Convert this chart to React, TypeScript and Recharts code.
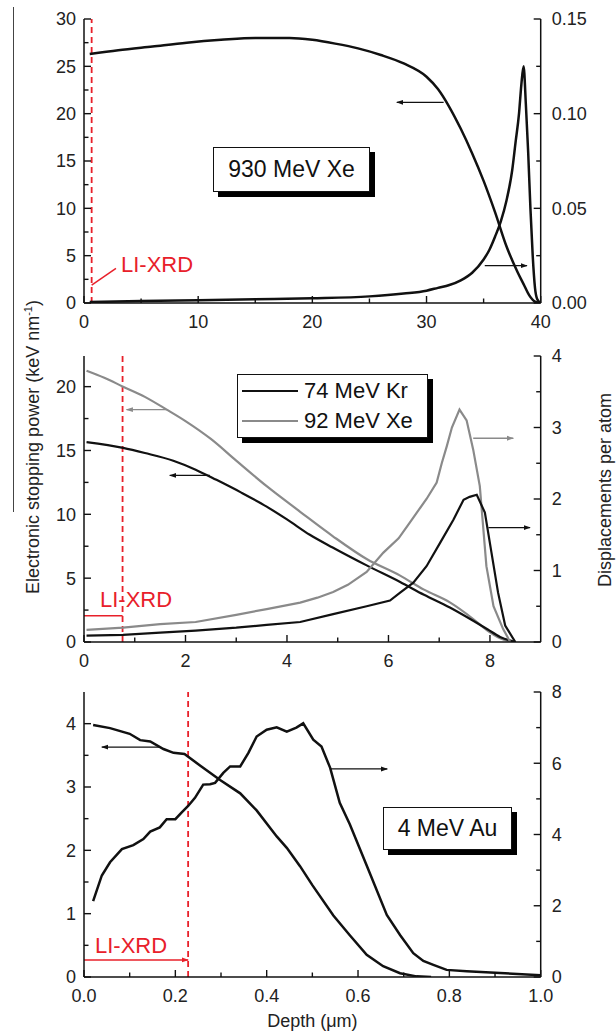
import React from 'react';
import { ComposedChart, Line, XAxis, YAxis, ReferenceLine, Legend } from 'recharts';

const FONT = '"Liberation Sans", Arial, Helvetica, sans-serif';
const INK = '#111111';
const GRAY = '#8a8a8a';
const RED = '#e8202a';

const W = 616;
const LEFT_W = 84;
const RIGHT_W = 75.3;

// ---- panel 1: 930 MeV Xe ----
const xe930SeDepth = [0.5, 3, 6, 9, 12, 15, 18, 20, 22, 24, 26, 28, 30, 31, 32, 33, 34, 35, 36, 37, 38, 38.5, 39, 39.5, 40];
const xe930Se = [26.3, 26.7, 27.1, 27.5, 27.8, 28.0, 28.0, 27.8, 27.4, 26.9, 26.2, 25.3, 23.9, 22.6, 20.7, 18.4, 15.8, 12.9, 9.6, 6.0, 3.2, 2.0, 0.8, 0.15, 0];
const xe930DpaDepth = [0.5, 5, 10, 15, 20, 25, 28, 30, 31, 32, 33, 34, 35, 35.5, 36, 36.5, 37, 37.5, 37.8, 38.1, 38.3, 38.5, 38.7, 38.9, 39.1, 39.3, 39.5, 39.7, 40];
const xe930Dpa = [0.0005, 0.001, 0.0015, 0.002, 0.0025, 0.0035, 0.005, 0.0065, 0.008, 0.0095, 0.012, 0.016, 0.023, 0.028, 0.035, 0.043, 0.054, 0.07, 0.085, 0.1, 0.115, 0.125, 0.105, 0.08, 0.05, 0.025, 0.008, 0.002, 0];
const p1XTicks = [0, 5, 10, 15, 20, 25, 30, 35, 40];
const p1XLabels = [0, 10, 20, 30, 40];
const p1LeftTicks = [0, 2.5, 5, 7.5, 10, 12.5, 15, 17.5, 20, 22.5, 25, 27.5, 30];
const p1LeftLabels = [0, 5, 10, 15, 20, 25, 30];
const p1RightTicks = [0, 0.025, 0.05, 0.075, 0.1, 0.125, 0.15];
const p1RightLabels = [0, 0.05, 0.1, 0.15];

// ---- panel 2: 74 MeV Kr / 92 MeV Xe ----
const xe92SeDepth = [0.05, 0.4, 0.77, 1.2, 1.63, 2.0, 2.5, 3.0, 3.6, 4.26, 4.9, 5.57, 6.23, 6.7, 7.21, 7.67, 7.95, 8.2, 8.45];
const xe92Se = [21.25, 20.7, 20.0, 19.2, 18.2, 17.3, 15.9, 14.2, 12.2, 10.2, 8.3, 6.5, 5.2, 4.1, 3.1, 1.8, 0.9, 0.3, 0];
const kr74SeDepth = [0.05, 0.77, 1.2, 1.76, 2.2, 2.61, 3.1, 3.6, 4.0, 4.45, 4.9, 5.57, 6.23, 6.7, 7.21, 7.67, 7.95, 8.2, 8.5];
const kr74Se = [15.65, 15.2, 14.8, 14.2, 13.5, 12.7, 11.7, 10.6, 9.6, 8.4, 7.4, 6.0, 4.7, 3.7, 2.7, 1.66, 1.0, 0.4, 0];
const xe92DpaDepth = [0.05, 0.77, 1.5, 2.2, 3.0, 3.6, 4.26, 4.6, 4.91, 5.2, 5.57, 5.9, 6.2, 6.42, 6.6, 6.75, 6.95, 7.05, 7.15, 7.25, 7.4, 7.54, 7.67, 7.8, 7.93, 8.07, 8.26, 8.4];
const xe92Dpa = [0.17, 0.2, 0.25, 0.28, 0.38, 0.46, 0.55, 0.62, 0.7, 0.8, 0.98, 1.25, 1.45, 1.67, 1.85, 2.0, 2.23, 2.5, 2.74, 3.0, 3.25, 3.1, 2.69, 2.18, 1.06, 0.5, 0.18, 0];
const kr74DpaDepth = [0.05, 0.77, 1.5, 2.2, 3.0, 3.6, 4.26, 4.91, 5.57, 6.03, 6.23, 6.49, 6.75, 7.02, 7.28, 7.48, 7.6, 7.74, 7.9, 8.03, 8.16, 8.3, 8.5];
const kr74Dpa = [0.09, 0.1, 0.13, 0.16, 0.2, 0.24, 0.28, 0.39, 0.5, 0.58, 0.69, 0.83, 1.06, 1.39, 1.71, 1.99, 2.03, 2.06, 1.81, 1.25, 0.69, 0.23, 0];
const legendNames = ['74 MeV Kr', '92 MeV Xe'];
const legendColors = [INK, GRAY];
const p2XTicks = [0, 1, 2, 3, 4, 5, 6, 7, 8];
const p2XLabels = [0, 2, 4, 6, 8];
const p2LeftTicks = [0, 2.5, 5, 7.5, 10, 12.5, 15, 17.5, 20];
const p2LeftLabels = [0, 5, 10, 15, 20];
const p2RightTicks = [0, 0.5, 1, 1.5, 2, 2.5, 3, 3.5, 4];
const p2RightLabels = [0, 1, 2, 3, 4];

// ---- panel 3: 4 MeV Au ----
const au4SeDepth = [0.02, 0.057, 0.1, 0.123, 0.145, 0.174, 0.196, 0.22, 0.254, 0.298, 0.342, 0.378, 0.422, 0.444, 0.473, 0.5, 0.546, 0.582, 0.619, 0.655, 0.692, 0.728, 0.76];
const au4Se = [3.98, 3.93, 3.84, 3.74, 3.72, 3.6, 3.54, 3.52, 3.34, 3.11, 2.9, 2.63, 2.22, 2.04, 1.75, 1.45, 0.97, 0.66, 0.35, 0.17, 0.06, 0.01, 0];
const au4DpaDepth = [0.02, 0.039, 0.057, 0.083, 0.108, 0.13, 0.145, 0.166, 0.181, 0.2, 0.214, 0.228, 0.243, 0.261, 0.276, 0.287, 0.305, 0.32, 0.342, 0.36, 0.378, 0.4, 0.422, 0.444, 0.465, 0.48, 0.502, 0.52, 0.539, 0.56, 0.582, 0.619, 0.663, 0.692, 0.721, 0.743, 0.765, 0.794, 0.838, 0.911, 1.0];
const au4Dpa = [2.13, 2.85, 3.22, 3.59, 3.7, 3.87, 4.08, 4.2, 4.43, 4.43, 4.62, 4.8, 5.03, 5.4, 5.41, 5.45, 5.73, 5.91, 5.91, 6.29, 6.75, 6.94, 7.01, 6.89, 7.0, 7.12, 6.66, 6.47, 5.87, 4.89, 4.29, 3.13, 1.74, 1.18, 0.67, 0.45, 0.34, 0.2, 0.16, 0.11, 0.05];
const p3XTicks = [0, 0.1, 0.2, 0.3, 0.4, 0.5, 0.6, 0.7, 0.8, 0.9, 1.0];
const p3XLabels = [0, 0.2, 0.4, 0.6, 0.8, 1.0];
const p3LeftTicks = [0, 0.5, 1, 1.5, 2, 2.5, 3, 3.5, 4];
const p3LeftLabels = [0, 1, 2, 3, 4];
const p3RightTicks = [0, 1, 2, 3, 4, 5, 6, 7, 8];
const p3RightLabels = [0, 2, 4, 6, 8];

// LI-XRD depth (dashed red line) per panel
const lixrd = [0.67, 0.76, 0.228];

const zip = (d: number[], v: number[]) => d.map((x, i) => ({ d: x, v: v[i] }));

// inward tick marks (long for labelled values, short otherwise)
const tickFactory = (side: string, major: number[], fmt?: (v: number) => string, gap = 8) => (props: any) => {
  const { x, y, payload } = props;
  const v = payload.value;
  const isMajor = major.some((m) => Math.abs(m - v) < 1e-9);
  const len = isMajor ? 7 : 4.5;
  const label = isMajor && fmt ? fmt(v) : null;
  const ls = { stroke: INK, strokeWidth: 1.4 };
  const ts = { fontFamily: FONT, fontSize: 18, fill: '#222' };
  if (side === 'bottom')
    return (
      <g>
        <line x1={x} y1={y} x2={x} y2={y - len} {...ls} />
        {label && <text x={x} y={y + gap} dy="0.71em" textAnchor="middle" {...ts}>{label}</text>}
      </g>
    );
  if (side === 'top') return <line x1={x} y1={y} x2={x} y2={y + len} {...ls} />;
  if (side === 'left')
    return (
      <g>
        <line x1={x} y1={y} x2={x + len} y2={y} {...ls} />
        {label && <text x={x - gap} y={y} dy="0.355em" textAnchor="end" {...ts}>{label}</text>}
      </g>
    );
  return (
    <g>
      <line x1={x} y1={y} x2={x - len} y2={y} {...ls} />
      {label && <text x={x + gap} y={y} dy="0.355em" textAnchor="start" {...ts}>{label}</text>}
    </g>
  );
};

const arrowShape = (color: string, marker: string, width = 1.3) => (p: any) => (
  <line x1={p.x1} y1={p.y1} x2={p.x2} y2={p.y2} stroke={color} strokeWidth={width} markerEnd={`url(#${marker})`} />
);

const axisLine = { stroke: INK, strokeWidth: 1.5 };

function Frame(props: {
  top: number; height: number; xMax: number; xTicks: number[]; xLabels: number[]; xFmt: (v: number) => string;
  leftMax: number; leftTicks: number[]; leftLabels: number[];
  rightMax: number; rightTicks: number[]; rightLabels: number[]; rightFmt: (v: number) => string;
  xHeight: number; xLabel?: string; children: React.ReactNode;
}) {
  const p = props;
  return (
    <div style={{ position: 'absolute', left: 0, top: p.top }}>
      <ComposedChart width={W} height={p.height} margin={{ top: 10, right: 0, bottom: 0, left: 0 }}>
        <XAxis xAxisId="b" dataKey="d" type="number" domain={[0, p.xMax]} allowDataOverflow ticks={p.xTicks} interval={0}
          tickSize={0} tickMargin={0} tickLine={false} axisLine={axisLine} height={p.xHeight}
          tick={tickFactory('bottom', p.xLabels, p.xFmt, 12)}
          label={p.xLabel ? { value: p.xLabel, position: 'insideBottom', offset: 6, style: { fontFamily: FONT, fontSize: 18, fill: '#222' } } : undefined} />
        <XAxis xAxisId="t" orientation="top" dataKey="d" type="number" domain={[0, p.xMax]} allowDataOverflow ticks={p.xTicks} interval={0}
          tickSize={0} tickMargin={0} tickLine={false} axisLine={axisLine} height={0} tick={tickFactory('top', p.xLabels)} />
        <YAxis yAxisId="left" type="number" domain={[0, p.leftMax]} allowDataOverflow ticks={p.leftTicks} interval={0}
          tickSize={0} tickMargin={0} tickLine={false} axisLine={axisLine} width={LEFT_W}
          tick={tickFactory('left', p.leftLabels, (v) => String(v), 8)} />
        <YAxis yAxisId="right" orientation="right" type="number" domain={[0, p.rightMax]} allowDataOverflow ticks={p.rightTicks} interval={0}
          tickSize={0} tickMargin={0} tickLine={false} axisLine={axisLine} width={RIGHT_W}
          tick={tickFactory('right', p.rightLabels, p.rightFmt, 11)} />
        {p.children}
      </ComposedChart>
    </div>
  );
}

const boxStyle: React.CSSProperties = {
  position: 'absolute', border: '1.5px solid #111', background: '#fff', boxShadow: '5px 5px 0 #000',
  display: 'flex', alignItems: 'center', justifyContent: 'center', fontSize: 23, color: '#111', boxSizing: 'border-box',
};

const redText: React.CSSProperties = { position: 'absolute', color: RED, fontSize: 22, lineHeight: '22px', whiteSpace: 'nowrap' };

function LegendBox() {
  return (
    <div style={{ ...boxStyle, position: 'relative', width: 191, height: 64, flexDirection: 'column', alignItems: 'flex-start', justifyContent: 'center', fontSize: 22, fontFamily: FONT }}>
      {legendNames.map((n, i) => (
        <div key={n} style={{ display: 'flex', alignItems: 'center', height: 30 }}>
          <div style={{ width: 56, height: 2.5, background: legendColors[i], marginLeft: 4, marginRight: 6 }} />
          <span>{n}</span>
        </div>
      ))}
    </div>
  );
}

export default function App() {
  return (
    <div style={{ position: 'absolute', left: 0, top: 0, width: W, height: 1033, background: '#fff', fontFamily: FONT, overflow: 'hidden' }}>
      <svg width={0} height={0} style={{ position: 'absolute' }}>
        <defs>
          <marker id="ah-ink" viewBox="0 0 10 10" refX="9" refY="5" markerWidth="7" markerHeight="7" markerUnits="userSpaceOnUse" orient="auto">
            <path d="M0,1.5 L10,5 L0,8.5 z" fill={INK} />
          </marker>
          <marker id="ah-gray" viewBox="0 0 10 10" refX="9" refY="5" markerWidth="7" markerHeight="7" markerUnits="userSpaceOnUse" orient="auto">
            <path d="M0,1.5 L10,5 L0,8.5 z" fill={GRAY} />
          </marker>
          <marker id="ah-red" viewBox="0 0 10 10" refX="9" refY="5" markerWidth="7" markerHeight="7" markerUnits="userSpaceOnUse" orient="auto">
            <path d="M0,1.5 L10,5 L0,8.5 z" fill={RED} />
          </marker>
        </defs>
      </svg>

      {/* panel 1 */}
      <Frame top={9} height={324} xMax={40} xTicks={p1XTicks} xLabels={p1XLabels} xFmt={(v) => String(v)}
        leftMax={30} leftTicks={p1LeftTicks} leftLabels={p1LeftLabels}
        rightMax={0.15} rightTicks={p1RightTicks} rightLabels={p1RightLabels} rightFmt={(v) => v.toFixed(2)} xHeight={30}>
        <ReferenceLine xAxisId="b" yAxisId="left" x={lixrd[0]} stroke={RED} strokeWidth={1.8} strokeDasharray="6 4" />
        <ReferenceLine xAxisId="b" yAxisId="left" segment={[{ x: 0.67, y: 1.9 }, { x: 2.8, y: 3.66 }]} stroke={RED} strokeWidth={1.5} />
        <Line xAxisId="b" yAxisId="left" data={zip(xe930SeDepth, xe930Se)} dataKey="v" type="monotone" stroke={INK} strokeWidth={2.5} dot={false} isAnimationActive={false} />
        <Line xAxisId="b" yAxisId="right" data={zip(xe930DpaDepth, xe930Dpa)} dataKey="v" type="monotone" stroke={INK} strokeWidth={2.5} dot={false} isAnimationActive={false} />
        <ReferenceLine xAxisId="b" yAxisId="left" segment={[{ x: 31.5, y: 21.2 }, { x: 27.4, y: 21.2 }]} shape={arrowShape(INK, 'ah-ink')} />
        <ReferenceLine xAxisId="b" yAxisId="right" segment={[{ x: 35.1, y: 0.0197 }, { x: 38.8, y: 0.0197 }]} shape={arrowShape(INK, 'ah-ink')} />
      </Frame>

      {/* panel 2 */}
      <Frame top={346} height={326} xMax={9} xTicks={p2XTicks} xLabels={p2XLabels} xFmt={(v) => String(v)}
        leftMax={22.4} leftTicks={p2LeftTicks} leftLabels={p2LeftLabels}
        rightMax={4} rightTicks={p2RightTicks} rightLabels={p2RightLabels} rightFmt={(v) => String(v)} xHeight={30}>
        <ReferenceLine xAxisId="b" yAxisId="left" x={lixrd[1]} stroke={RED} strokeWidth={1.8} strokeDasharray="6 4" />
        <ReferenceLine xAxisId="b" yAxisId="left" segment={[{ x: 0, y: 2.05 }, { x: lixrd[1], y: 2.05 }]} stroke={RED} strokeWidth={1.5} />
        <Line xAxisId="b" yAxisId="left" data={zip(xe92SeDepth, xe92Se)} dataKey="v" type="monotone" stroke={GRAY} strokeWidth={2.2} dot={false} isAnimationActive={false} />
        <Line xAxisId="b" yAxisId="left" data={zip(kr74SeDepth, kr74Se)} dataKey="v" type="monotone" stroke={INK} strokeWidth={2.2} dot={false} isAnimationActive={false} />
        <Line xAxisId="b" yAxisId="right" data={zip(xe92DpaDepth, xe92Dpa)} dataKey="v" type="linear" stroke={GRAY} strokeWidth={2.2} dot={false} isAnimationActive={false} />
        <Line xAxisId="b" yAxisId="right" data={zip(kr74DpaDepth, kr74Dpa)} dataKey="v" type="linear" stroke={INK} strokeWidth={2.2} dot={false} isAnimationActive={false} />
        <ReferenceLine xAxisId="b" yAxisId="left" segment={[{ x: 1.63, y: 18.2 }, { x: 0.84, y: 18.2 }]} shape={arrowShape(GRAY, 'ah-gray')} />
        <ReferenceLine xAxisId="b" yAxisId="left" segment={[{ x: 2.48, y: 13.05 }, { x: 1.69, y: 13.05 }]} shape={arrowShape(INK, 'ah-ink')} />
        <ReferenceLine xAxisId="b" yAxisId="right" segment={[{ x: 7.67, y: 2.85 }, { x: 8.46, y: 2.85 }]} shape={arrowShape(GRAY, 'ah-gray')} />
        <ReferenceLine xAxisId="b" yAxisId="right" segment={[{ x: 7.97, y: 1.6 }, { x: 8.79, y: 1.6 }]} shape={arrowShape(INK, 'ah-ink')} />
        <Legend layout="vertical" align="center" verticalAlign="middle" content={() => <LegendBox />}
          wrapperStyle={{ position: 'absolute', left: 237, top: 28, width: 191, height: 64 }} />
      </Frame>

      {/* panel 3 */}
      <Frame top={682} height={351} xMax={1} xTicks={p3XTicks} xLabels={p3XLabels} xFmt={(v) => v.toFixed(1)}
        leftMax={4.5} leftTicks={p3LeftTicks} leftLabels={p3LeftLabels}
        rightMax={8} rightTicks={p3RightTicks} rightLabels={p3RightLabels} rightFmt={(v) => String(v)} xHeight={56} xLabel="Depth (μm)">
        <ReferenceLine xAxisId="b" yAxisId="left" x={lixrd[2]} stroke={RED} strokeWidth={1.8} strokeDasharray="6 4" />
        <ReferenceLine xAxisId="b" yAxisId="left" segment={[{ x: 0, y: 0.27 }, { x: lixrd[2], y: 0.27 }]} shape={arrowShape(RED, 'ah-red', 1.5)} />
        <Line xAxisId="b" yAxisId="left" data={zip(au4SeDepth, au4Se)} dataKey="v" type="linear" stroke={INK} strokeWidth={2.5} dot={false} isAnimationActive={false} />
        <Line xAxisId="b" yAxisId="right" data={zip(au4DpaDepth, au4Dpa)} dataKey="v" type="linear" stroke={INK} strokeWidth={2.5} dot={false} isAnimationActive={false} />
        <ReferenceLine xAxisId="b" yAxisId="left" segment={[{ x: 0.166, y: 3.63 }, { x: 0.039, y: 3.63 }]} shape={arrowShape(INK, 'ah-ink')} />
        <ReferenceLine xAxisId="b" yAxisId="right" segment={[{ x: 0.539, y: 5.84 }, { x: 0.664, y: 5.84 }]} shape={arrowShape(INK, 'ah-ink')} />
      </Frame>

      {/* annotation boxes */}
      <div style={{ ...boxStyle, left: 213, top: 147, width: 157, height: 45 }}>930 MeV Xe</div>
      <div style={{ ...boxStyle, left: 383, top: 807, width: 129, height: 43 }}>4 MeV Au</div>

      <div style={{ ...redText, left: 121, top: 254 }}>LI-XRD</div>
      <div style={{ ...redText, left: 100, top: 589 }}>LI-XRD</div>
      <div style={{ ...redText, left: 95, top: 935 }}>LI-XRD</div>

      {/* axis titles */}
      <div style={{ position: 'absolute', left: 28 - 170, top: 447 - 11, width: 340, height: 22, lineHeight: '22px', fontSize: 18, textAlign: 'center', transform: 'rotate(-90deg)', color: '#222', whiteSpace: 'nowrap' }}>
        Electronic stopping power (keV nm<sup style={{ fontSize: 11 }}>-1</sup>)
      </div>
      <div style={{ position: 'absolute', left: 605 - 150, top: 490 - 11, width: 300, height: 22, lineHeight: '22px', fontSize: 18, textAlign: 'center', transform: 'rotate(-90deg)', color: '#222', whiteSpace: 'nowrap' }}>
        Displacements per atom
      </div>
      <div style={{ position: 'absolute', left: 12.5, top: 7, width: 1, height: 505, background: '#444' }} />
    </div>
  );
}
